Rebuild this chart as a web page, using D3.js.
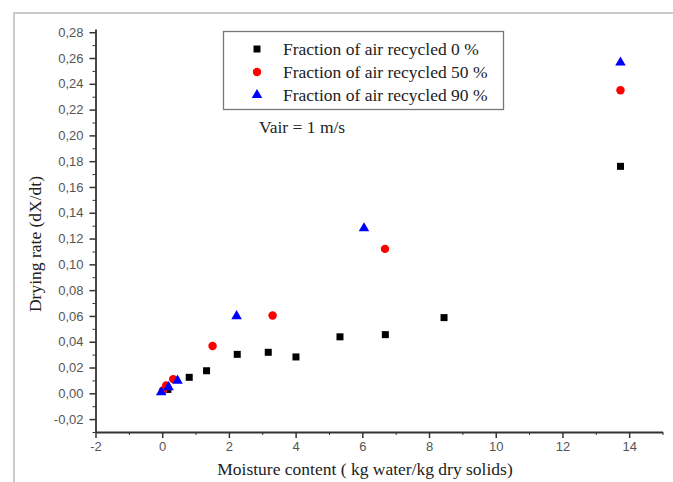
<!DOCTYPE html>
<html>
<head>
<meta charset="utf-8">
<script src="https://cdn.jsdelivr.net/npm/d3@7"></script>
<style>
  body { margin: 0; background: #fff; }
  svg { display: block; }
  .axis path, .axis line { stroke: #333; }
  .axis text { font-family: 'Liberation Sans', Arial, sans-serif; font-size: 13px; fill: #555; }
  .serif { font-family: 'Liberation Serif', 'Times New Roman', serif; fill: #222; }
</style>
</head>
<body>
<div class="chart"></div>
<script>
'use strict';

// data
const black0 = [[0.17, 0.003], [0.81, 0.0124], [1.33, 0.0175], [2.25, 0.0302], [3.18, 0.0318], [4.01, 0.0282], [5.33, 0.0438], [6.69, 0.0455], [8.45, 0.0587], [13.74, 0.176]];
const red50 = [[0.02, 0.002], [0.12, 0.006], [0.33, 0.011], [1.51, 0.0367], [3.31, 0.0604], [6.68, 0.112], [13.74, 0.235]];
const blue90 = [[-0.03, 0.0008], [0.19, 0.0048], [0.46, 0.0098], [2.23, 0.0598], [6.05, 0.128], [13.74, 0.2565]];

const legendLabels = ['Fraction of air recycled 0 %', 'Fraction of air recycled 50 %', 'Fraction of air recycled 90 %'];
const xTicks = [-2, 0, 2, 4, 6, 8, 10, 12, 14];
const xMinor = [-1, 1, 3, 5, 7, 9, 11, 13, 15];
const yTicks = [-0.02, 0, 0.02, 0.04, 0.06, 0.08, 0.10, 0.12, 0.14, 0.16, 0.18, 0.20, 0.22, 0.24, 0.26, 0.28];
const yMinor = [-0.03, -0.01, 0.01, 0.03, 0.05, 0.07, 0.09, 0.11, 0.13, 0.15, 0.17, 0.19, 0.21, 0.23, 0.25, 0.27];

const W = 673, H = 482;

const svg = d3.select('.chart')
  .append('svg')
    .attr('width', W)
    .attr('height', H);

// faint frame of the original figure
svg.append('path')
  .attr('d', 'M14,482 V13 H673')
  .attr('fill', 'none')
  .attr('stroke', '#cacaca')
  .attr('stroke-width', 2);

const x = d3.scaleLinear().domain([-2, 15]).range([95.5, 662.5]);
const y = d3.scaleLinear().domain([-0.03, 0.2825]).range([432, 29]);

const comma = d3.formatLocale({ decimal: ',', thousands: '.', grouping: [3], currency: ['', ''] });
const fmtY = (d) => comma.format('.2f')(d).replace('−', '-');

const g = svg.append('g');

g.append('g')
    .attr('class', 'axis')
    .attr('transform', 'translate(0,' + y(-0.03) + ')')
    .call(d3.axisBottom(x).tickValues(xMinor).tickSize(3).tickFormat(''))
    .call((s) => s.select('.domain').remove());

g.append('g')
    .attr('class', 'axis')
    .attr('transform', 'translate(0,' + y(-0.03) + ')')
    .call(d3.axisBottom(x).tickValues(xTicks).tickSizeInner(6).tickSizeOuter(0).tickPadding(4).tickFormat((d) => d < 0 ? '-' + Math.abs(d) : d))
    .call((s) => s.select('.domain').attr('stroke-width', 1.8))
    .call((s) => s.selectAll('line').attr('stroke-width', 1.5));

g.append('g')
    .attr('class', 'axis')
    .attr('transform', 'translate(' + x(-2) + ',0)')
    .call(d3.axisLeft(y).tickValues(yMinor).tickSize(3).tickFormat(''))
    .call((s) => s.select('.domain').remove());

g.append('g')
    .attr('class', 'axis')
    .attr('transform', 'translate(' + x(-2) + ',0)')
    .call(d3.axisLeft(y).tickValues(yTicks).tickSizeInner(6).tickSizeOuter(0).tickPadding(6).tickFormat(fmtY))
    .call((s) => s.select('.domain').attr('stroke-width', 1.8))
    .call((s) => s.selectAll('line').attr('stroke-width', 1.5));

const sq = d3.symbol().type(d3.symbolSquare).size(49);
const ci = d3.symbol().type(d3.symbolCircle).size(56);
const tr = d3.symbol().type(d3.symbolTriangle).size(48);

function draw(data, sym, color) {
  g.append('g').selectAll('path')
    .data(data)
    .enter()
    .append('path')
    .attr('d', sym)
    .attr('transform', (d) => 'translate(' + x(d[0]) + ',' + y(d[1]) + ')')
    .attr('fill', color);
}

draw(black0, sq, '#000');
draw(red50, ci, '#ff0000');
draw(blue90, tr, '#0000ff');

// legend
const lg = svg.append('g');
lg.append('rect')
  .attr('x', 223.5).attr('y', 31.5)
  .attr('width', 280).attr('height', 78)
  .attr('fill', '#fff')
  .attr('stroke', '#777')
  .attr('stroke-width', 1.3);

const syms = [sq, ci, tr];
const cols = ['#000', '#ff0000', '#0000ff'];
const rowY = [49, 72, 95];
legendLabels.forEach((t, i) => {
  lg.append('path')
    .attr('d', syms[i])
    .attr('transform', 'translate(257,' + rowY[i] + ')')
    .attr('fill', cols[i]);
  lg.append('text')
    .attr('class', 'serif')
    .attr('x', 283)
    .attr('y', rowY[i] + 6)
    .attr('font-size', 17.5)
    .text(t);
});

svg.append('text')
  .attr('class', 'serif')
  .attr('x', 259)
  .attr('y', 133)
  .attr('font-size', 17.5)
  .text('Vair = 1 m/s');

svg.append('text')
  .attr('class', 'serif')
  .attr('x', 365)
  .attr('y', 475)
  .attr('text-anchor', 'middle')
  .attr('font-size', 17.5)
  .text('Moisture content ( kg water/kg dry solids)');

svg.append('text')
  .attr('class', 'serif')
  .attr('transform', 'translate(41,244) rotate(-90)')
  .attr('text-anchor', 'middle')
  .attr('font-size', 17.5)
  .text('Drying rate (dX/dt)');
</script>
</body>
</html>
